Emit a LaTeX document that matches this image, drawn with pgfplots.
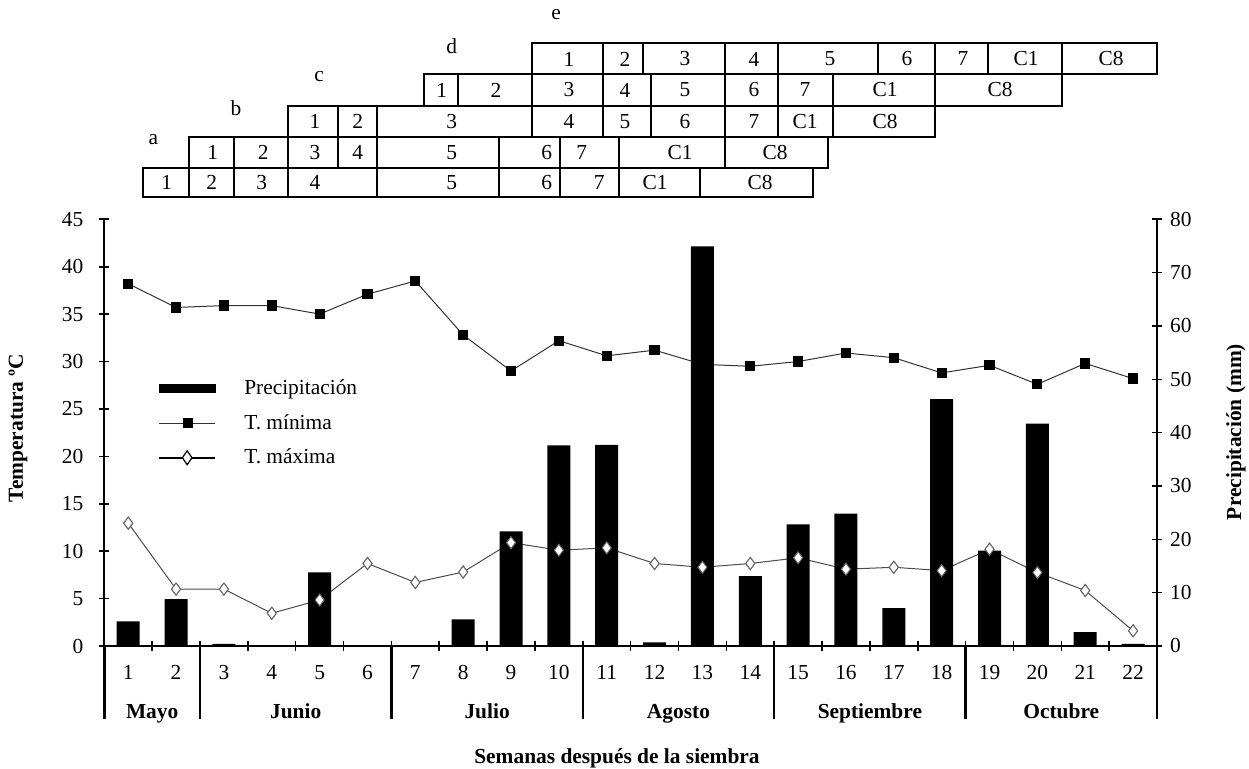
\documentclass[border=0pt]{standalone}
\usepackage{pgfplots}
\pgfplotsset{compat=1.18}
\usepackage{fontspec}
\setmainfont{Liberation Serif}

% semana, temperatura minima/maxima (C), precipitacion (mm)
\pgfplotstableread{
semana tmin tmax prec
1  38.2 12.95  4.6
2  35.7  6.0   8.8
3  35.9  6.0   0.4
4  35.9  3.45  0
5  35.0  4.85 13.8
6  37.1  8.7   0
7  38.5  6.7   0
8  32.8  7.8   5.0
9  29.0 10.9  21.5
10 32.2 10.1  37.6
11 30.6 10.35 37.7
12 31.2  8.7   0.7
13 29.7  8.3  74.9
14 29.5  8.7  13.1
15 30.0  9.3  22.8
16 30.9  8.1  24.8
17 30.4  8.3   7.1
18 28.8  7.95 46.3
19 29.6 10.2  17.9
20 27.6  7.75 41.7
21 29.8  5.85  2.6
22 28.2  1.6   0.4
}\datos

\newcommand\tf{\fontsize{10.7}{12.8}\selectfont}

\pgfplotsset{
  base/.style={
    scale only axis, width=526.35pt, height=213.35pt,
    at={(52.15pt,61.5pt)}, anchor=south west,
    xmin=0.5, xmax=22.5, ymin=0, ymax=45, clip=false,
    tick label style={font=\tf},
    /pgf/number format/assume math mode=true,
    axis line style={line width=0.8pt},
    tick style={line width=0.8pt, black},
    major tick length=5pt, tick align=center,
  },
  tmaxmark/.style={mark=diamond*, mark size=3pt,
    mark options={fill=white, draw=black!60, line width=0.5pt}},
}
\tikzset{mes/.style={font=\tf\bfseries, anchor=base}}

\begin{document}
\begin{tikzpicture}[font=\tf]
\path[use as bounding box] (0pt,0pt) rectangle (624.5pt,384.5pt);

% temperaturas (eje izquierdo)
\begin{axis}[base,
  axis x line*=bottom, axis y line*=left,
  ytick={0,5,...,45},
  yticklabel style={xshift=-4.5pt},
  xtick={0.5,1.5,...,22.5}, x tick label as interval,
  xticklabels={1,2,3,4,5,6,7,8,9,10,11,12,13,14,15,16,17,18,19,20,21,22},
  xticklabel style={yshift=-3.5pt},
]
\addplot[black!80, line width=0.5pt, mark=square*, mark size=2.3pt,
  mark options={fill=black, draw=black}] table[x=semana, y=tmin]{\datos};
\addplot[black!70, line width=0.5pt, tmaxmark] table[x=semana, y=tmax]{\datos};
\end{axis}

% precipitacion (eje derecho)
\begin{axis}[base, ymax=80,
  axis x line=none, axis y line*=right,
  ytick={0,10,...,80},
  yticklabel style={xshift=0.5pt},
]
\addplot[ybar, bar width=0.48, fill=black, draw=none] table[x=semana, y=prec]{\datos};
\end{axis}

% marcas de T. maxima sobre las barras, leyenda y meses
\begin{axis}[base, hide axis,
  legend style={at={(0.045,0.634)}, anchor=north west, draw=none, fill=none,
    font=\tf, column sep=14pt, row sep=8.3pt,
    nodes={inner sep=0pt}},
  legend cell align=left,
]
\addplot[only marks, tmaxmark, forget plot] table[x=semana, y=tmax]{\datos};
\addlegendimage{legend image code/.code={\fill[black] (0pt,-2pt) rectangle (28pt,2pt);}}
\addlegendentry{Precipitación}
\addlegendimage{legend image code/.code={
  \draw[black!80, line width=0.6pt] (0pt,0pt) -- (28pt,0pt);
  \fill[black] (12pt,-2.3pt) rectangle (16.6pt,2.3pt);}}
\addlegendentry{T. mínima}
\addlegendimage{legend image code/.code={
  \draw[black, line width=1.1pt] (0pt,0pt) -- (28pt,0pt);
  \draw[fill=white, draw=black, line width=0.6pt] (14pt,3.5pt) -- (16.4pt,0pt) -- (14pt,-3.5pt) -- (11.6pt,0pt) -- cycle;}}
\addlegendentry{T. máxima}
\pgfplotsinvokeforeach{0.5,2.5,6.5,10.5,14.5,18.5,22.5}{
  \draw[line width=1.2pt] (axis cs:#1,0) -- (axis cs:#1,-7.7);
}
\node[mes] at (axis cs:1.5,-7.6) {Mayo};
\node[mes] at (axis cs:4.5,-7.6) {Junio};
\node[mes] at (axis cs:8.5,-7.6) {Julio};
\node[mes] at (axis cs:12.5,-7.6) {Agosto};
\node[mes] at (axis cs:16.5,-7.6) {Septiembre};
\node[mes] at (axis cs:20.5,-7.6) {Octubre};
\end{axis}

% todo lo demas en pixeles de la imagen, origen arriba a la izquierda
\begin{scope}[x=0.5pt, y=-0.5pt, shift={(0pt,384.5pt)}]
\node[rotate=90, font=\tf\bfseries] at (18,428) {Temperatura ºC};
\node[rotate=90, font=\tf\bfseries] at (1236,432) {Precipitación (mm)};
\node[font=\tf\bfseries] at (617,758) {Semanas después de la siembra};

% calendario de fases por fecha de siembra
\begin{scope}[line width=1pt]
\foreach \xa/\xb/\t/\xt in {143.3/189/1/166.7, 189/234.3/2/211.7, 234.3/288.3/3/261.7,
  288.3/376.7/4/315, 376.7/499.3/5/451.7, 499.3/560/6/546.7, 560/619.3/7/599.3,
  619.3/700/C1/655, 700/812.7/C8/760}
  {\draw (\xa,168) rectangle (\xb,197); \node at (\xt,182.5) {\t};}
\foreach \xa/\xb/\t/\xt in {189/234.3/1/212.7, 234.3/288.3/2/263.3, 288.3/338.3/3/315,
  338.3/376.7/4/357.7, 376.7/499.3/5/451.7, 499.3/560/6/546.7, 560/619.3/7/581.7,
  619.3/725/C1/680, 725/828.3/C8/775}
  {\draw (\xa,137) rectangle (\xb,168); \node at (\xt,152.5) {\t};}
\foreach \xa/\xb/\t/\xt in {288.3/338.3/1/315, 338.3/376.7/2/357.7, 376.7/531.7/3/451.7,
  531.7/603.3/4/569, 603.3/650.7/5/625, 650.7/725/6/685, 725/778.3/7/754,
  778.3/832.7/C1/805, 832.7/935/C8/885}
  {\draw (\xa,106) rectangle (\xb,137); \node at (\xt,121.5) {\t};}
\foreach \xa/\xb/\t/\xt in {424/458.3/1/441.7, 458.3/531.7/2/496, 531.7/603.3/3/569,
  603.3/650.7/4/625, 650.7/725/5/685, 725/778.3/6/754, 778.3/832.7/7/805,
  832.7/935/C1/885, 935/1061.7/C8/1000}
  {\draw (\xa,74) rectangle (\xb,106); \node at (\xt,90) {\t};}
\foreach \xa/\xb/\t/\xt in {531.7/603.3/1/569, 603.3/643.3/2/625, 643.3/725/3/685,
  725/778.3/4/754, 778.3/877.7/5/830, 877.7/935/6/907, 935/988.3/7/963,
  988.3/1061.7/C1/1026, 1061.7/1156.7/C8/1111}
  {\draw (\xa,43.3) rectangle (\xb,74); \node at (\xt,59) {\t};}
\end{scope}
\node at (153.3,140) {a};
\node at (236,108.3) {b};
\node at (319,76.7) {c};
\node at (451.7,46) {d};
\node at (556,15) {e};
\end{scope}
\end{tikzpicture}
\end{document}
